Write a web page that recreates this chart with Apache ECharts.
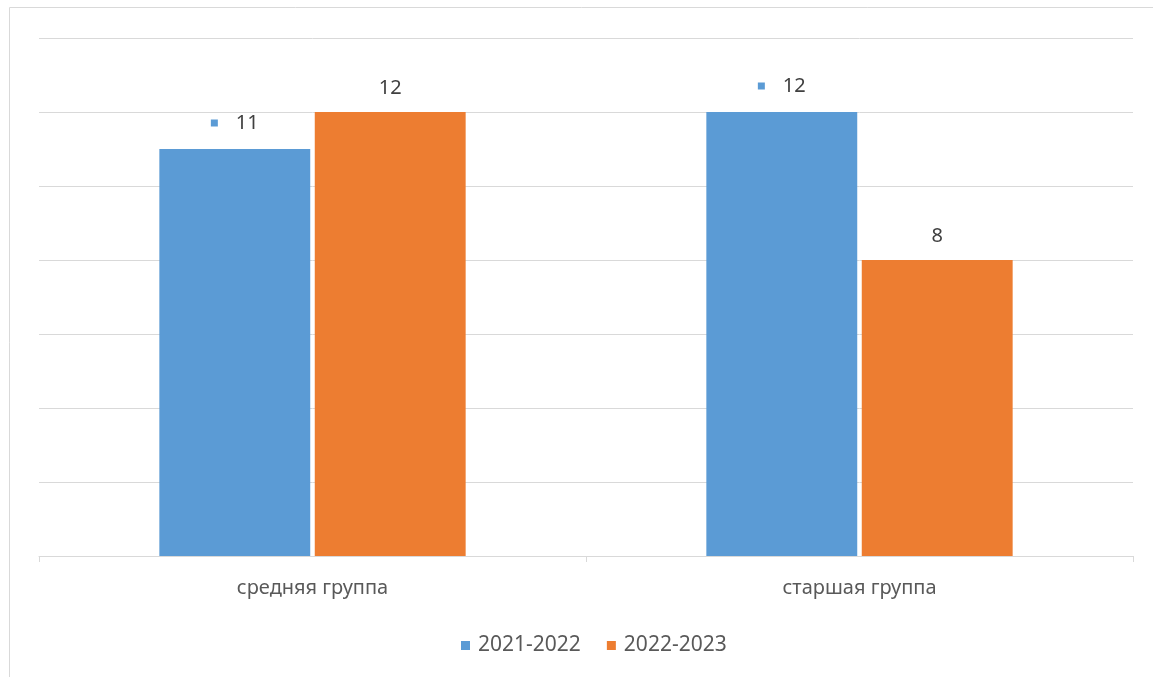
<!DOCTYPE html>
<html>
<head>
<meta charset="utf-8">
<script src="https://cdn.jsdelivr.net/npm/echarts@6/dist/echarts.min.js"></script>
<style>
  html, body { margin: 0; padding: 0; background: #fff; }
  #chart { width: 1153px; height: 677px; }
</style>
</head>
<body>
<div id="chart"></div>
<script>
const categories = ['средняя группа', 'старшая группа']
const seriesNames = ['2021-2022', '2022-2023']
const values2122 = [11, 12]
const values2223 = [12, 8]

const BLUE = '#5b9bd5'
const ORANGE = '#ed7d31'
const FONT = '"Noto Sans", "Open Sans", sans-serif'

const chart = echarts.init(document.getElementById('chart'))

chart.setOption({
  animation: false,
  color: [BLUE, ORANGE],
  textStyle: { fontFamily: FONT },
  graphic: [{
    type: 'rect',
    shape: { x: 9.5, y: 7.5, width: 1300, height: 900 },
    style: { fill: 'none', stroke: '#d9d9d9', lineWidth: 1 },
    silent: true,
  }],
  grid: { top: 38, left: 39, right: 20, bottom: 121, containLabel: false },
  legend: {
    top: 630,
    left: 456,
    icon: 'rect',
    itemWidth: 9,
    itemHeight: 9,
    itemGap: 26,
    textStyle: { color: '#595959', fontSize: 21, fontFamily: FONT, padding: [0, 0, 0, 3] },
    data: seriesNames,
  },
  xAxis: {
    type: 'category',
    data: categories,
    axisLine: { lineStyle: { color: '#d9d9d9', width: 1 } },
    axisTick: { show: true, length: 6, lineStyle: { color: '#d9d9d9' } },
    axisLabel: { color: '#595959', fontSize: 20, margin: 22, fontFamily: FONT },
  },
  yAxis: {
    type: 'value',
    min: 0,
    max: 14,
    interval: 2,
    axisLine: { show: false },
    axisTick: { show: false },
    axisLabel: { show: false },
    splitLine: { lineStyle: { color: '#d9d9d9', width: 1 } },
  },
  series: [
    {
      name: seriesNames[0],
      type: 'bar',
      data: values2122,
      barCategoryGap: '44%',
      barGap: '3%',
      itemStyle: { color: BLUE },
      label: {
        show: true,
        position: 'top',
        distance: 16,
        formatter: '{s|}{v|{c}}',
        rich: {
          s: { width: 7, height: 7, backgroundColor: BLUE },
          v: { fontSize: 20, color: '#404040', fontFamily: FONT, padding: [0, 0, 0, 18] },
        },
      },
    },
    {
      name: seriesNames[1],
      type: 'bar',
      data: values2223,
      barCategoryGap: '44%',
      barGap: '3%',
      itemStyle: { color: ORANGE },
      label: {
        show: true,
        position: 'top',
        distance: 14,
        color: '#404040',
        fontSize: 20,
        fontFamily: FONT,
      },
    },
  ],
})
</script>
</body>
</html>
